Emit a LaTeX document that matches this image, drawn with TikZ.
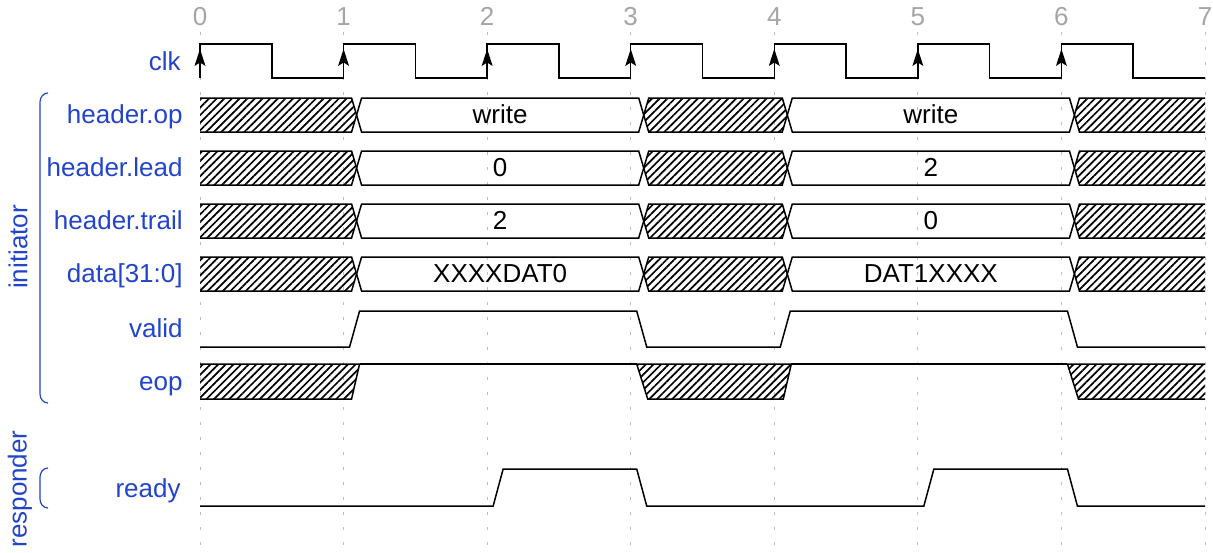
\documentclass[tikz,border=0pt]{standalone}
\usepackage{fontspec}
\setmainfont{Liberation Sans}
\usetikzlibrary{patterns.meta,arrows.meta}
\definecolor{lblue}{RGB}{34,68,204}
\definecolor{tgray}{RGB}{165,165,165}
\definecolor{ggray}{RGB}{190,190,190}
\newcommand\TT[1]{(200+143.57*(#1))}
\newcommand\busmid[5]{%
  \path[#5] ({\TT{#1}+18},#3) -- ({\TT{#2}+8},#3) -- ({\TT{#2}+13},{(#3+#4)/2}) -- ({\TT{#2}+8},#4) -- ({\TT{#1}+18},#4) -- ({\TT{#1}+13},{(#3+#4)/2}) -- cycle;}
\newcommand\busrow[6]{%
  \fill[hatch] (200,#2) -- ({\TT{1}+8},#2) -- ({\TT{1}+13},{(#2+#3)/2}) -- ({\TT{1}+8},#3) -- (200,#3) -- cycle;
  \draw[sig] (200,#2) -- ({\TT{1}+8},#2) -- ({\TT{1}+13},{(#2+#3)/2}) -- ({\TT{1}+8},#3) -- (200,#3);
  \busmid{1}{3}{#2}{#3}{sig,draw}
  \busmid{3}{4}{#2}{#3}{sig,draw,hatch}
  \busmid{4}{6}{#2}{#3}{sig,draw}
  \fill[hatch] (1205,#2) -- ({\TT{6}+18},#2) -- ({\TT{6}+13},{(#2+#3)/2}) -- ({\TT{6}+18},#3) -- (1205,#3) -- cycle;
  \draw[sig] (1205,#2) -- ({\TT{6}+18},#2) -- ({\TT{6}+13},{(#2+#3)/2}) -- ({\TT{6}+18},#3) -- (1205,#3);
  \node[lbl] (#1) at (183,{(#2+#3)/2+8.5}) {#4};
  \node[val] (#1a) at ({(\TT{1}+\TT{3})/2+13},{(#2+#3)/2+8.5}) {#5};
  \node[val] (#1b) at ({(\TT{4}+\TT{6})/2+13},{(#2+#3)/2+8.5}) {#6};
}
\begin{document}
\begin{tikzpicture}[x=0.5pt,y=-0.5pt,
  font=\fontsize{13}{15}\selectfont,
  sig/.style={line width=0.75pt,line join=miter},
  hatch/.style={pattern={Lines[angle=45,distance=2.7pt,line width=0.85pt]}},
  lbl/.style={text=lblue,anchor=base east,inner sep=0pt},
  val/.style={anchor=base,inner sep=0pt},
  num/.style={text=tgray,anchor=base,inner sep=0pt},
  grid/.style={ggray,line width=0.5pt,dash pattern=on 1.5pt off 6pt},
  brace/.style={lblue,line width=0.6pt},
  clkhead/.style={fill=black}]
\useasboundingbox (0,0) rectangle (1213,552);
% tick numbers and grid
\foreach \i in {0,...,7}{
  \node[num] (n\i) at ({\TT{\i}},25) {\i};
  \draw[grid] ({\TT{\i}},32) -- ({\TT{\i}},552);
}
% clock
\node[lbl] (lclk) at (181,70.5) {clk};
\draw[sig] (200,78) -- (200,44)
  \foreach \i in {0,...,6}{ -- ({\TT{\i}},44) -- ({\TT{\i+0.5}},44) -- ({\TT{\i+0.5}},78) -- ({\TT{\i+1}},78) }
  ;
\draw[sig] \foreach \i in {1,...,6}{ ({\TT{\i}},78) -- ({\TT{\i}},44) };
\foreach \i in {0,...,6}{
  \fill[clkhead] ({\TT{\i}},49) -- ({\TT{\i}+5.5},66) -- ({\TT{\i}},62.5) -- ({\TT{\i}-5.5},66) -- cycle;
}
% bus rows
\busrow{lop}{98}{132}{header.op}{write}{write}
\busrow{llead}{151}{185}{header.lead}{0}{2}
\busrow{ltrail}{204}{238}{header.trail}{2}{0}
\busrow{ldata}{257}{291}{data[31:0]}{XXXXDAT0}{DAT1XXXX}
% valid
\node[lbl] (lvalid) at (183,337) {valid};
\draw[sig] (200,347) -- ({\TT{1}+6},347) -- ({\TT{1}+16},311) -- ({\TT{3}+6},311) -- ({\TT{3}+16},347)
  -- ({\TT{4}+6},347) -- ({\TT{4}+16},311) -- ({\TT{6}+6},311) -- ({\TT{6}+16},347) -- (1205,347);
% eop
\node[lbl] (leop) at (183,390) {eop};
\fill[hatch] (200,364) -- ({\TT{1}+16},364) -- ({\TT{1}+8},399) -- (200,399) -- cycle;
\draw[sig] (200,364) -- ({\TT{1}+16},364) -- ({\TT{1}+8},399) -- (200,399);
\draw[sig] ({\TT{1}+16},364) -- ({\TT{3}+6},364);
\filldraw[sig,hatch] ({\TT{3}+6},364) -- ({\TT{3}+17},399) -- ({\TT{4}+9},399) -- ({\TT{4}+17},364) -- cycle;
\draw[sig] ({\TT{4}+17},364) -- ({\TT{6}+6},364);
\fill[hatch] (1205,364) -- ({\TT{6}+6},364) -- ({\TT{6}+17},399) -- (1205,399) -- cycle;
\draw[sig] (1205,364) -- ({\TT{6}+6},364) -- ({\TT{6}+17},399) -- (1205,399);
% ready
\node[lbl] (lready) at (181,497) {ready};
\draw[sig] (200,506) -- ({\TT{2}+6},506) -- ({\TT{2}+16},469) -- ({\TT{3}+6},469) -- ({\TT{3}+16},506)
  -- ({\TT{5}+6},506) -- ({\TT{5}+16},469) -- ({\TT{6}+6},469) -- ({\TT{6}+16},506) -- (1205,506);
% groups
\draw[brace] (48,93) to[out=180,in=90] (40,102) -- (40,394) to[out=-90,in=180] (48,403);
\node[text=lblue,rotate=90,inner sep=0pt] (ginit) at (18,247) {initiator};
\draw[brace] (48,468) to[out=180,in=90] (40,477) -- (40,499) to[out=-90,in=180] (48,508);
\node[text=lblue,rotate=90,inner sep=0pt] (gresp) at (20,489) {responder};
\end{tikzpicture}
\end{document}
